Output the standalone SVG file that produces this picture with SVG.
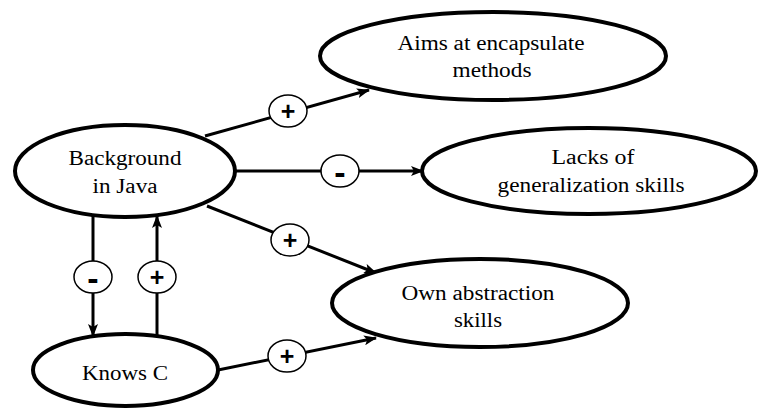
<svg xmlns="http://www.w3.org/2000/svg" width="759" height="408" viewBox="0 0 759 408">
  <style>
    .node { fill: #fff; stroke: #000; stroke-width: 4; }
    .label { font-family: "Liberation Serif", Tinos, "Noto Serif", "DejaVu Serif", "Times New Roman", Times, serif; font-size: 20px; fill: #000; text-anchor: middle; }
    .edge { stroke: #000; stroke-width: 3; fill: none; marker-end: url(#arrow); }
    .bubble { fill: #fff; stroke: #000; stroke-width: 1.5; }
    .sign { font-family: "Liberation Sans", Arial, sans-serif; font-weight: bold; fill: #000; text-anchor: middle; }
    .plus { font-size: 25px; }
    .minus { font-size: 34px; }
  </style>
  <defs>
    <marker id="arrow" markerUnits="userSpaceOnUse" markerWidth="13" markerHeight="10" refX="12" refY="5" orient="auto">
      <path d="M0,0 L13,5 L0,10 L3,5 z" fill="#000"/>
    </marker>
  </defs>
  <rect width="759" height="408" fill="#fff"/>

  <!-- connectors with their polarity bubbles -->
  <g id="connectors">
    <line class="edge" x1="205" y1="136" x2="369" y2="90"/>
    <line class="edge" x1="235" y1="171" x2="423" y2="171"/>
    <line class="edge" x1="207" y1="206" x2="376" y2="273"/>
    <line class="edge" x1="93" y1="216" x2="93" y2="336"/>
    <line class="edge" x1="157" y1="336" x2="157" y2="216"/>
    <line class="edge" x1="218" y1="370" x2="376" y2="338"/>

    <ellipse class="bubble" cx="288" cy="111" rx="19" ry="16"/>
    <text class="sign plus" x="288" y="120">+</text>
    <ellipse class="bubble" cx="340" cy="171" rx="19" ry="16"/>
    <text class="sign minus" x="340" y="184">-</text>
    <ellipse class="bubble" cx="290" cy="240" rx="19" ry="16"/>
    <text class="sign plus" x="290" y="249">+</text>
    <ellipse class="bubble" cx="93" cy="277" rx="19" ry="16"/>
    <text class="sign minus" x="93" y="290">-</text>
    <ellipse class="bubble" cx="157" cy="277" rx="19" ry="16"/>
    <text class="sign plus" x="157" y="286">+</text>
    <ellipse class="bubble" cx="287" cy="356" rx="19" ry="16"/>
    <text class="sign plus" x="287" y="365">+</text>
  </g>

  <g id="background-java">
    <ellipse class="node" cx="125" cy="171" rx="110" ry="46"/>
    <text class="label" x="125" y="165" textLength="113" lengthAdjust="spacingAndGlyphs">Background</text>
    <text class="label" x="125" y="193" textLength="65" lengthAdjust="spacingAndGlyphs">in Java</text>
  </g>

  <g id="aims-encapsulate">
    <ellipse class="node" cx="493" cy="56" rx="173" ry="44"/>
    <text class="label" x="491" y="50" textLength="187" lengthAdjust="spacingAndGlyphs">Aims at encapsulate</text>
    <text class="label" x="492" y="77" textLength="79" lengthAdjust="spacingAndGlyphs">methods</text>
  </g>

  <g id="lacks-generalization">
    <ellipse class="node" cx="589" cy="171" rx="167" ry="43"/>
    <text class="label" x="593" y="164" textLength="83" lengthAdjust="spacingAndGlyphs">Lacks of</text>
    <text class="label" x="591" y="192" textLength="187" lengthAdjust="spacingAndGlyphs">generalization skills</text>
  </g>

  <g id="own-abstraction">
    <ellipse class="node" cx="480" cy="303" rx="148" ry="44"/>
    <text class="label" x="478" y="300" textLength="153" lengthAdjust="spacingAndGlyphs">Own abstraction</text>
    <text class="label" x="478" y="327" textLength="48" lengthAdjust="spacingAndGlyphs">skills</text>
  </g>

  <g id="knows-c">
    <ellipse class="node" cx="125.5" cy="370" rx="92.5" ry="36"/>
    <text class="label" x="125" y="380" textLength="86" lengthAdjust="spacingAndGlyphs">Knows C</text>
  </g>
</svg>
